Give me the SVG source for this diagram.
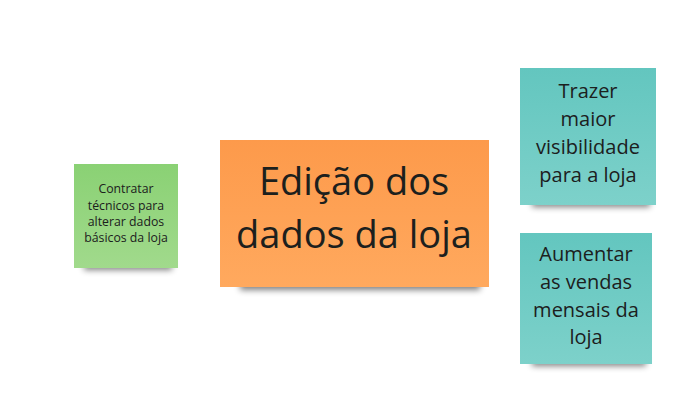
<svg xmlns="http://www.w3.org/2000/svg" width="694" height="411" viewBox="0 0 694 411">
<style>
text{font-family:"Open Sans","Noto Sans",sans-serif;fill:#1c201d;text-anchor:middle}
.s{fill:#000;opacity:0.5;filter:url(#blur)}
</style>
<defs>
<filter id="blur" x="-30%" y="-100%" width="160%" height="300%"><feGaussianBlur stdDeviation="3"/></filter>
<linearGradient id="gG" x1="0" y1="0" x2="0" y2="1"><stop offset="0" stop-color="#8ad174"/><stop offset="1" stop-color="#a1da8c"/></linearGradient>
<linearGradient id="gO" x1="0" y1="0" x2="0" y2="1"><stop offset="0" stop-color="#fd9a4b"/><stop offset="1" stop-color="#ffa95e"/></linearGradient>
<linearGradient id="gT" x1="0" y1="0" x2="0" y2="1"><stop offset="0" stop-color="#63c6bf"/><stop offset="1" stop-color="#7dd1ca"/></linearGradient>
</defs>
<rect width="694" height="411" fill="#fff"/>
<g id="connectors"></g>
<g id="n-green">
<rect class="s" x="84" y="262" width="88" height="8"/>
<rect x="74" y="164" width="104" height="104" fill="url(#gG)"/>
<text font-size="12.3"><tspan x="126" y="193">Contratar</tspan><tspan x="126" y="210">técnicos para</tspan><tspan x="126" y="226">alterar dados</tspan><tspan x="126" y="242">básicos da loja</tspan></text>
</g>
<g id="n-orange">
<rect class="s" x="240" y="280" width="240" height="10"/>
<rect x="220" y="140" width="269" height="147" fill="url(#gO)"/>
<text font-size="38"><tspan x="354" y="195">Edição dos</tspan><tspan x="354" y="248">dados da loja</tspan></text>
</g>
<g id="n-teal1">
<rect class="s" x="532" y="199" width="118" height="8"/>
<rect x="520" y="68" width="136" height="137" fill="url(#gT)"/>
<text font-size="20"><tspan x="588" y="98">Trazer</tspan><tspan x="588" y="126">maior</tspan><tspan x="588" y="154">visibilidade</tspan><tspan x="588" y="182">para a loja</tspan></text>
</g>
<g id="n-teal2">
<rect class="s" x="532" y="358" width="114" height="8"/>
<rect x="520" y="233" width="132" height="131" fill="url(#gT)"/>
<text font-size="20"><tspan x="586" y="261">Aumentar</tspan><tspan x="586" y="289">as vendas</tspan><tspan x="586" y="317">mensais da</tspan><tspan x="586" y="344">loja</tspan></text>
</g>
</svg>
